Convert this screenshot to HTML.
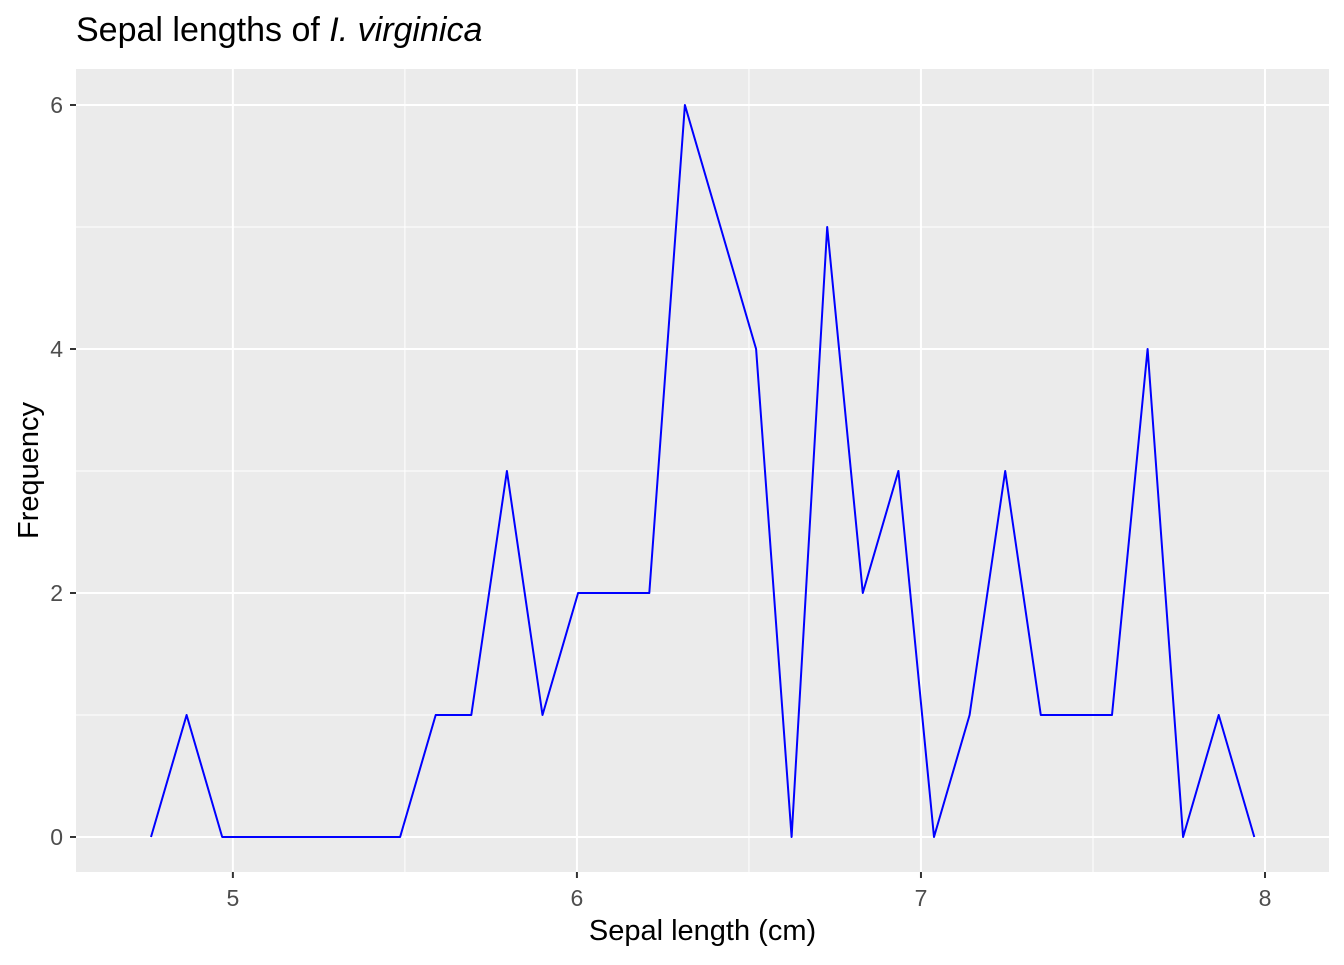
<!DOCTYPE html>
<html><head><meta charset="utf-8"><style>
body{margin:0;background:#fff;font-family:"Liberation Sans",sans-serif;}
</style></head><body>
<svg id="chart" width="1344" height="960" xmlns="http://www.w3.org/2000/svg" font-family="Liberation Sans, sans-serif"></svg>
<script>
const xStart = 4.762;
const binStep = 0.10345;
const frequencies = [0,1,0,0,0,0,0,0,1,1,3,1,2,2,2,6,5,4,0,5,2,3,0,1,3,1,1,1,4,0,1,0];
const xTicks = [5,6,7,8];
const xMinor = [5.5,6.5,7.5];
const yTicks = [0,2,4,6];
const yMinor = [1,3,5];

const P = {l:76,r:1329,t:69,b:872};
const xDom=[4.544,8.186], yDom=[-0.287,6.295];
const xs = v => P.l + (v-xDom[0])/(xDom[1]-xDom[0])*(P.r-P.l);
const ys = v => P.b - (v-yDom[0])/(yDom[1]-yDom[0])*(P.b-P.t);
const svg=document.getElementById('chart');
const NS='http://www.w3.org/2000/svg';
function mk(tag,attrs,parent){const e=document.createElementNS(NS,tag);for(const k in attrs)e.setAttribute(k,attrs[k]);(parent||svg).appendChild(e);return e;}

const panel=mk('rect',{x:P.l,y:P.t,width:P.r-P.l,height:P.b-P.t,fill:'#EBEBEB'});



xMinor.forEach(v=>{const l=mk('line',{x1:xs(v),x2:xs(v),y1:P.t,y2:P.b,stroke:'#fff','stroke-width':1});

});
yMinor.forEach(v=>{const l=mk('line',{x1:P.l,x2:P.r,y1:ys(v),y2:ys(v),stroke:'#fff','stroke-width':1});

});
xTicks.forEach(v=>{const x=xs(v);
const g=mk('line',{x1:x,x2:x,y1:P.t,y2:P.b,stroke:'#fff','stroke-width':2});


const t=mk('line',{x1:x,x2:x,y1:P.b,y2:P.b+6,stroke:'#333','stroke-width':2});


const tx=mk('text',{x:x,y:P.b+34,'text-anchor':'middle','font-size':23,fill:'#4D4D4D'});tx.textContent=v;

});
yTicks.forEach(v=>{const y=ys(v);
const g=mk('line',{x1:P.l,x2:P.r,y1:y,y2:y,stroke:'#fff','stroke-width':2});


const t=mk('line',{x1:P.l-6,x2:P.l,y1:y,y2:y,stroke:'#333','stroke-width':2});


const tx=mk('text',{x:P.l-13,y:y+8,'text-anchor':'end','font-size':23,fill:'#4D4D4D'});tx.textContent=v;

});

const pts=frequencies.map((f,i)=>xs(xStart+i*binStep).toFixed(1)+','+ys(f).toFixed(1)).join(' ');
const line=mk('polyline',{points:pts,fill:'none',stroke:'#0000FF','stroke-width':2,'stroke-linejoin':'round'});



const xt=mk('text',{x:(P.l+P.r)/2,y:940,'text-anchor':'middle','font-size':29,fill:'#000'});xt.textContent='Sepal length (cm)';


const yt=mk('text',{x:0,y:0,'text-anchor':'middle','font-size':29,fill:'#000',transform:'translate(38,'+((P.t+P.b)/2)+') rotate(-90)'});yt.textContent='Frequency';


const tt=mk('text',{x:76,y:41,'font-size':34,fill:'#000'});
tt.innerHTML='Sepal lengths of <tspan font-style="italic">I. virginica</tspan>';


</script>
</body></html>
